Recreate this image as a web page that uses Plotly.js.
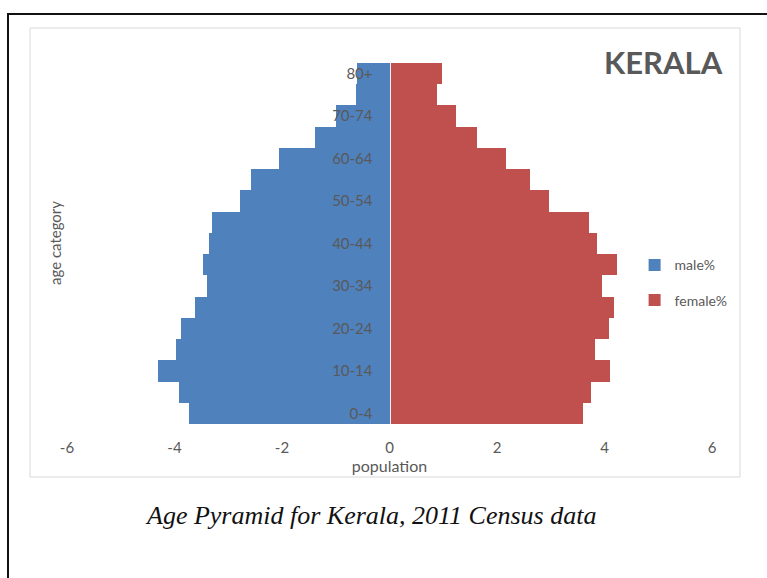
<!DOCTYPE html>
<html>
<head>
<meta charset="utf-8">
<script src="https://cdn.plot.ly/plotly-3.0.1.min.js"></script>
<style>
  html, body { margin: 0; padding: 0; background: #ffffff; }
  #chart { width: 767px; height: 578px; }
</style>
</head>
<body>
<div id="chart"></div>
<script>
// Age categories (bottom to top)
const ageCategories = ["0-4","5-9","10-14","15-19","20-24","25-29","30-34","35-39","40-44","45-49","50-54","55-59","60-64","65-69","70-74","75-79","80+"];
// male% plotted on the negative side
const malePct = [-3.73,-3.91,-4.31,-3.97,-3.88,-3.61,-3.40,-3.47,-3.36,-3.30,-2.78,-2.57,-2.06,-1.38,-0.99,-0.63,-0.61];
const femalePct = [3.60,3.74,4.11,3.83,4.09,4.17,3.95,4.24,3.86,3.71,2.96,2.62,2.17,1.62,1.23,0.88,0.98];
// Tick labels
const yTickLabels = ["0-4","10-14","20-24","30-34","40-44","50-54","60-64","70-74","80+"];
const xTickVals = [-6,-4,-2,0,2,4,6];
const xTickText = ["-6","-4","-2","0","2","4","6"];

const gray = "#595959";
const sans = "Lato, 'Open Sans', sans-serif";

const traces = [
  {
    type: "bar", orientation: "h", name: "male%",
    y: ageCategories, x: malePct,
    marker: { color: "#4f81bd" }, legendgroup: "m",
    hoverinfo: "y+x"
  },
  {
    type: "bar", orientation: "h", name: "female%",
    y: ageCategories, x: femalePct,
    marker: { color: "#c0504d" }, legendgroup: "f",
    hoverinfo: "y+x"
  }
];

const layout = {
  width: 767, height: 578,
  margin: { l: 67, r: 55, t: 63, b: 154 },
  paper_bgcolor: "#ffffff", plot_bgcolor: "#ffffff",
  barmode: "relative", bargap: 0,
  font: { family: sans, color: gray },
  xaxis: {
    range: [-6, 6], tickvals: xTickVals, ticktext: xTickText,
    showgrid: false, zeroline: false, showline: false, ticks: "",
    tickfont: { family: sans, size: 15, color: gray },
    ticklabelstandoff: 13,
    title: { text: "population", font: { family: sans, size: 16, color: gray }, standoff: 0 },
    fixedrange: true
  },
  yaxis: {
    type: "category", anchor: "free", position: 0.5, side: "left",
    tickvals: yTickLabels, ticktext: yTickLabels,
    showgrid: false, zeroline: false, ticks: "",
    showline: true, linecolor: "#eeeeee", linewidth: 1.5, layer: "above traces",
    tickfont: { family: sans, size: 15, color: gray },
    ticklabelstandoff: 14,
    fixedrange: true
  },
  showlegend: true,
  legend: {
    x: 0.88, y: 0.484, xanchor: "left", yanchor: "top",
    font: { family: sans, size: 14, color: gray },
    traceorder: "grouped", tracegroupgap: 14,
    bgcolor: "rgba(0,0,0,0)"
  },
  shapes: [
    { type: "rect", xref: "paper", yref: "paper",
      x0: (8 - 67) / 645, x1: (790 - 67) / 645,
      y0: (424 - 600) / 361, y1: (424 - 14) / 361,
      line: { color: "#111111", width: 2 }, layer: "below" },
    { type: "rect", xref: "paper", yref: "paper",
      x0: (30 - 67) / 645, x1: (740 - 67) / 645,
      y0: (424 - 477) / 361, y1: (424 - 28) / 361,
      line: { color: "#d9d9d9", width: 1 }, layer: "below" }
  ],
  annotations: [
    { text: "<b>KERALA</b>", xref: "paper", yref: "paper",
      x: (663 - 67) / 645, y: (424 - 62) / 361, showarrow: false,
      xanchor: "center", yanchor: "middle",
      font: { family: sans, size: 31, color: gray } },
    { text: "age category", xref: "paper", yref: "paper",
      x: (55 - 67) / 645, y: (424 - 243) / 361, showarrow: false,
      textangle: -90, xanchor: "center", yanchor: "middle",
      font: { family: sans, size: 15, color: gray } },
    { text: "<i>Age Pyramid for Kerala, 2011 Census data</i>", xref: "paper", yref: "paper",
      x: (370 - 67) / 645, y: (424 - 515) / 361, showarrow: false,
      xanchor: "center", yanchor: "middle",
      font: { family: "'Liberation Serif', 'Times New Roman', serif", size: 26, color: "#111111" } }
  ]
};

Plotly.newPlot("chart", traces, layout, { displayModeBar: false, staticPlot: true });
</script>
</body>
</html>
